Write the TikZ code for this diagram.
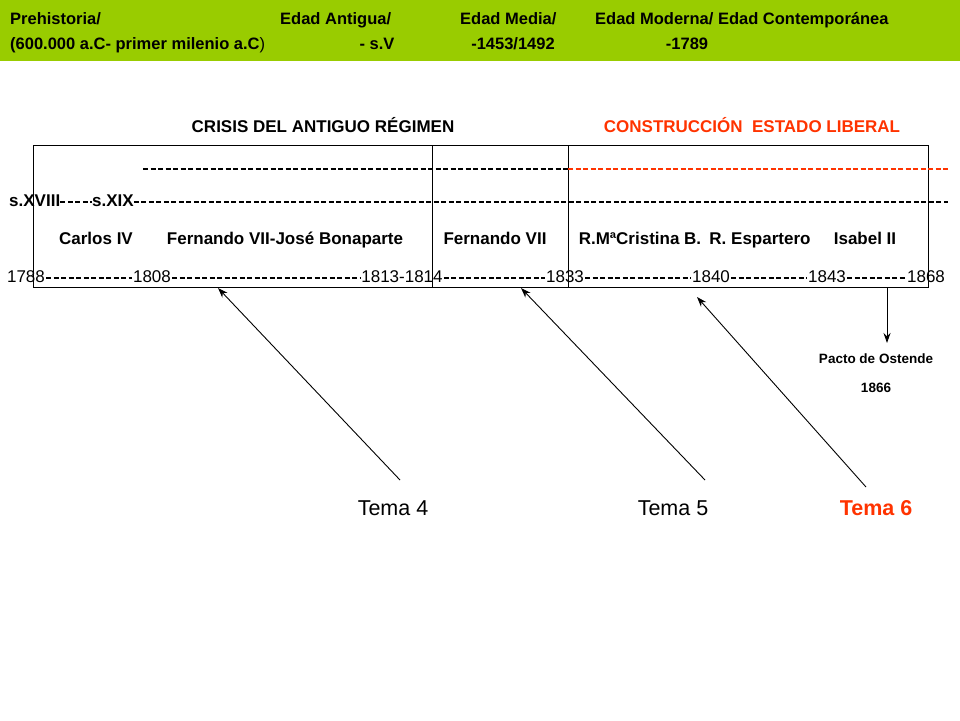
\documentclass[tikz,border=0pt]{standalone}
\usetikzlibrary{arrows.meta}
\usepackage{fontspec}
\setmainfont{Liberation Sans}
\begin{document}
\begin{tikzpicture}[x=1pt,y=-1pt,
  hdr/.style={font=\fontsize{16.5}{18}\selectfont\bfseries, inner sep=0pt, text height=12pt, text depth=3pt},
  lbl/.style={font=\fontsize{17}{19}\selectfont\bfseries, inner sep=0pt, text height=12pt, text depth=3pt},
  yr/.style={font=\fontsize{17}{19}\selectfont, inner sep=1pt, text height=12pt, text depth=3pt},
  dl/.style={line width=1.3pt, dash pattern=on 5pt off 2.5pt},
  tema/.style={font=\fontsize{21.5}{24}\selectfont, inner sep=1pt},
  arr/.style={-{Stealth[length=10pt,width=7pt]}, line width=0.9pt}]
\definecolor{hg}{HTML}{99CC00}
\definecolor{rd}{HTML}{FF3300}
\useasboundingbox (0,0) rectangle (960,720);
\fill[hg] (0,0) rectangle (960,61);
\node[hdr,anchor=west] (h1) at (10,20) {Prehistoria/};
\node[hdr,anchor=west] (h2) at (280,20) {Edad Antigua/};
\node[hdr,anchor=west] (h3) at (460,20) {Edad Media/};
\node[hdr,anchor=west] (h4) at (595,20) {Edad Moderna/\ Edad Contemporánea};
\node[hdr,anchor=west] (h5) at (10,45) {(600.000 a.C- primer milenio a.C\textmd{)}};
\node[hdr] (h6) at (377,45) {- s.V};
\node[hdr] (h7) at (513,45) {-1453/1492};
\node[hdr] (h8) at (687,45) {-1789};
\node[lbl] (c1) at (323,128) {CRISIS DEL ANTIGUO RÉGIMEN};
\node[lbl,text=rd] (c2) at (752,128) {CONSTRUCCIÓN\ \ ESTADO LIBERAL};
\draw[line width=0.9pt] (33,145) rectangle (928,287);
\draw[line width=0.6pt] (432,145) -- (432,287) (568,145) -- (568,287);
\coordinate (t0) at (143,169); \coordinate (t1) at (568,169); \coordinate (t2) at (948,169);
\draw[dl] (t0) -- (t1);
\draw[dl,rd] (t1) -- (t2);
\node[lbl,anchor=west] (s1) at (9,202) {s.XVIII};
\node[lbl,anchor=west] (s2) at (92,202) {s.XIX};
\coordinate (s3) at (948,202);
\draw[dl] (s1.east) -- (s2.west);
\draw[dl] (s2.east) -- (s3);
\node[lbl] (k1) at (96,240) {Carlos IV};
\node[lbl] (k2) at (285,240) {Fernando VII-José Bonaparte};
\node[lbl] (k3) at (495,240) {Fernando VII};
\node[lbl] (k4) at (640,240) {R.MªCristina B.};
\node[lbl] (k5) at (760,240) {R. Espartero};
\node[lbl] (k6) at (865,240) {Isabel II};
\node[yr] (y1) at (26,278) {1788};
\node[yr] (y2) at (152,278) {1808};
\node[yr] (y3) at (402,278) {1813-1814};
\node[yr] (y4) at (565,278) {1833};
\node[yr] (y5) at (711,278) {1840};
\node[yr] (y6) at (827,278) {1843};
\node[yr] (y7) at (926,278) {1868};
\foreach \a/\b in {y1/y2,y2/y3,y3/y4,y4/y5,y5/y6,y6/y7}
  \draw[line width=1.1pt, dash pattern=on 5pt off 2.5pt] (\a.east) -- (\b.west);
\node[font=\fontsize{13.5}{15}\selectfont\bfseries] (p1) at (876,359) {Pacto de Ostende};
\node[font=\fontsize{13.5}{15}\selectfont\bfseries] (p2) at (876,388) {1866};
\coordinate (pa) at (887,288); \coordinate (pb) at (887,343);
\draw[arr] (pa) -- (pb);
\node[tema] (T4) at (393,508) {Tema 4};
\node[tema] (T5) at (673,508) {Tema 5};
\node[tema,text=rd,font=\fontsize{21.5}{24}\selectfont\bfseries] (T6) at (876,508) {Tema 6};
\coordinate (a4) at (218,288); \coordinate (a5) at (521,288); \coordinate (a6) at (697,297);
\coordinate (b4) at (400,480); \coordinate (b5) at (705,480); \coordinate (b6) at (866,487);
\draw[arr] (b4) -- (a4);
\draw[arr] (b5) -- (a5);
\draw[arr] (b6) -- (a6);
\end{tikzpicture}
\end{document}
